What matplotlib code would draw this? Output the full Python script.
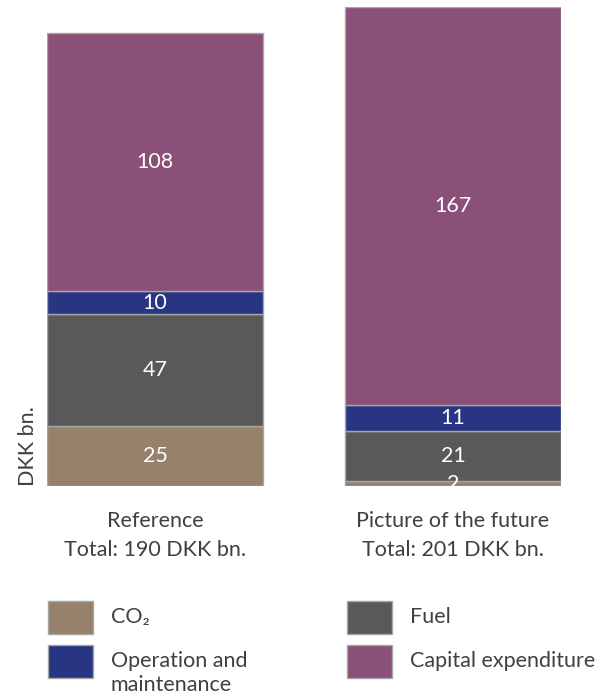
import matplotlib.pyplot as plt
from matplotlib.patches import Rectangle

plt.rcParams['font.family'] = ['Lato', 'DejaVu Sans']

scenarios = ['Reference', 'Picture of the future']
totals = [190, 201]
components = ['CO\u2082', 'Fuel', 'Operation and\nmaintenance', 'Capital expenditure']
co2 = [25, 2]
fuel = [47, 21]
om = [10, 11]
capex = [108, 167]
colors = ['#96826b', '#595959', '#283583', '#8b5077']

W, H = 611, 697
fig = plt.figure(figsize=(W / 100, H / 100), dpi=100)

# axes box in pixel terms: bars span x 47..561, y 486 (zero) .. 7 (201)
left, right, bottom, top = 47, 561, 486, 7
ax = fig.add_axes([left / W, (H - bottom) / H, (right - left) / W, (bottom - top) / H])

fs = 15.5
width = 216 / 298
x = [0, 1]
base = [0, 0]
for vals, col in zip([co2, fuel, om, capex], colors):
    ax.bar(x, vals, width, bottom=base, color=col, edgecolor='#a6a6a6', linewidth=1)
    for xi, v, b in zip(x, vals, base):
        ax.text(xi, b + v / 2, str(v), ha='center', va='center', color='white', fontsize=fs)
    base = [b + v for b, v in zip(base, vals)]

ax.set_xlim(-width / 2, 1 + width / 2)
ax.set_ylim(0, max(totals))
ax.axis('off')

txt = '#404040'
for xi, name, tot in zip(x, scenarios, totals):
    ax.text(xi, -10.5, f'{name}\nTotal: {tot} DKK bn.', ha='center', va='top',
            fontsize=fs, color=txt, linespacing=1.55)

fig.text(28 / W, 1 - 446 / H, 'DKK bn.', rotation=90, ha='center', va='center',
         fontsize=fs, color=txt)

# legend, two columns
legend_pos = [(48, 601), (347, 601), (48, 645), (347, 645)]
for (lx, ly), name, col in zip(legend_pos, components, colors):
    fig.add_artist(Rectangle((lx / W, 1 - (ly + 33) / H), 45 / W, 33 / H,
                             transform=fig.transFigure, facecolor=col,
                             edgecolor='#a6a6a6', linewidth=1))
    fig.text((lx + 63) / W, 1 - (ly + 6) / H, name, ha='left', va='top',
             fontsize=fs, color=txt, linespacing=1.25)

fig.savefig('out.png', dpi=100)
